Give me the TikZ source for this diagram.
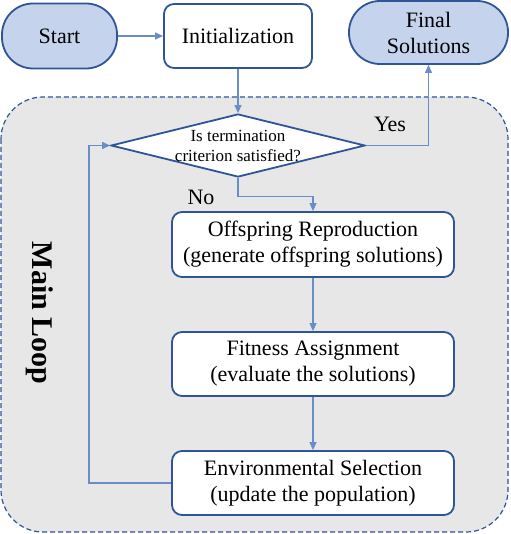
\documentclass[tikz,border=0pt]{standalone}
\usepackage{fontspec}
\setmainfont{Liberation Serif}
\usepackage{tikz}
\usetikzlibrary{arrows.meta,calc,shapes.geometric}

\definecolor{edgeblue}{HTML}{2F5597}
\definecolor{lineblue}{HTML}{6A8CC7}
\definecolor{pillfill}{HTML}{C5D3EC}
\definecolor{loopgray}{HTML}{E7E7E7}

\begin{document}
\begin{tikzpicture}[x=1pt, y=-1pt,
    >={Triangle[length=8pt,width=7pt]},
    pill/.style={draw=edgeblue, line width=1.8pt, fill=pillfill, rounded corners=31pt,
        inner sep=0pt, align=center, font=\fontsize{22}{26}\selectfont},
    stepbox/.style={draw=edgeblue, line width=1.8pt, fill=white, rounded corners=10pt,
        inner sep=0pt, align=center, font=\fontsize{22}{26}\selectfont},
    conn/.style={->, draw=lineblue, line width=1.2pt},
    lbl/.style={font=\fontsize{22}{26}\selectfont}]
    % bounding box
    \useasboundingbox (0,0) rectangle (510,534);

    % main loop area
    \draw[edgeblue, line width=1.2pt, dash pattern=on 5pt off 3pt, fill=loopgray,
        rounded corners=42pt] (1,97) rectangle (508,532);
    \node[rotate=-90, font=\fontsize{30}{30}\selectfont\bfseries] (mainloop) at (40,313) {Main Loop};

    % top row
    \node[pill, minimum width=115pt, minimum height=65pt] (start) at (59.5,36) {Start};
    \node[stepbox, minimum width=148pt, minimum height=64pt] (init) at (238,36) {Initialization};
    \node[pill, minimum width=159pt, minimum height=63pt] (final) at (428.5,32.5) {Final\\Solutions};

    % decision
    \node[diamond, draw=edgeblue, line width=1.8pt, fill=white, inner sep=0pt, aspect=4,
        minimum width=254pt, minimum height=63pt,
        label={[name=qtext, align=center, font=\fontsize{17}{20}\selectfont]center:Is termination\\criterion satisfied?}]
        (q) at (238,145.5) {};

    % loop steps
    \node[stepbox, minimum width=282pt, minimum height=65pt] (offs) at (313,244.5)
        {Offspring Reproduction\\(generate offspring solutions)};
    \node[stepbox, minimum width=282pt, minimum height=64pt] (fit) at (313,364)
        {Fitness Assignment\\(evaluate the solutions)};
    \node[stepbox, minimum width=282pt, minimum height=64pt] (env) at (313,483)
        {Environmental Selection\\(update the population)};

    % connectors
    \draw[conn] (start) -- (init);
    \draw[conn] (init) -- (q.north);
    \draw[conn] (q.east) -| (final.south);
    \draw[conn] (q.south) |- ($(q.south)!.55!(offs.north)$) -| (offs.north);
    \draw[conn] (offs) -- (fit);
    \draw[conn] (fit) -- (env);
    \coordinate (back) at (89,145.5);
    \draw[conn] (env.west) -| (back) -- (q.west);

    % branch labels
    \node[lbl] (yes) at (390,124) {Yes};
    \node[lbl] (no) at (201,197) {No};
\end{tikzpicture}
\end{document}
